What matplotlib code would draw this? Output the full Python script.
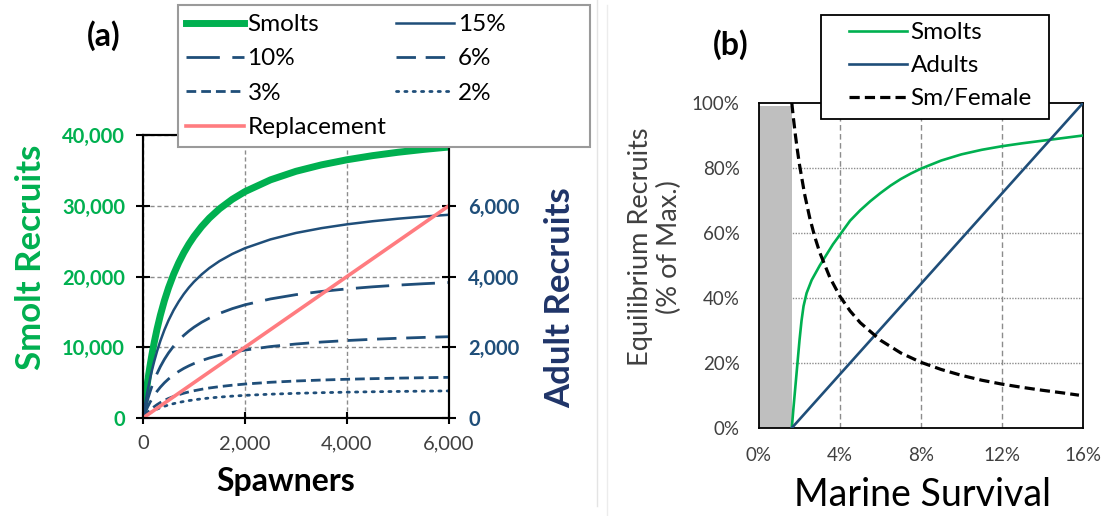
import matplotlib.pyplot as plt
from matplotlib.lines import Line2D
from matplotlib.patches import Rectangle

plt.rcParams['font.family'] = ['Lato', 'DejaVu Sans']

# Panel (a): stock-recruitment curves
spawners = [0, 15, 30, 50, 75, 100, 140, 175, 220, 275, 340, 420, 500, 600, 700,
            800, 900, 1000, 1150, 1300, 1500, 1750, 2000, 2500, 3000, 3500, 4000,
            4500, 5000, 5500, 6000]
smolts = [0, 950, 1860, 3010, 4370, 5630, 7480, 8960, 10680, 12560, 14520, 16600,
          18390, 20310, 21940, 23360, 24590, 25670, 27060, 28250, 29570, 30910,
          32000, 33660, 34870, 35780, 36500, 37080, 37560, 37960, 38300]
adults_15 = [0, 143, 279, 452, 656, 845, 1122, 1344, 1602, 1884, 2178, 2490, 2759,
             3047, 3291, 3504, 3689, 3851, 4059, 4238, 4436, 4637, 4800, 5049, 5231,
             5367, 5475, 5562, 5634, 5694, 5745]
adults_10 = [0, 95, 186, 301, 437, 563, 748, 896, 1068, 1256, 1452, 1660, 1839,
             2031, 2194, 2336, 2459, 2567, 2706, 2825, 2957, 3091, 3200, 3366, 3487,
             3578, 3650, 3708, 3756, 3796, 3830]
adults_6 = [0, 57, 112, 181, 262, 338, 449, 538, 641, 754, 871, 996, 1103, 1219,
            1316, 1402, 1475, 1540, 1624, 1695, 1774, 1855, 1920, 2020, 2092, 2147,
            2190, 2225, 2254, 2278, 2298]
adults_3 = [0, 29, 56, 90, 131, 169, 224, 269, 320, 377, 436, 498, 552, 609, 658,
            701, 738, 770, 812, 848, 887, 927, 960, 1010, 1046, 1073, 1095, 1112,
            1127, 1139, 1149]
adults_2 = [0, 19, 37, 60, 87, 113, 150, 179, 214, 251, 290, 332, 368, 406, 439,
            467, 492, 513, 541, 565, 591, 618, 640, 673, 697, 716, 730, 742, 751,
            759, 766]
replacement_x = [0, 6000]
replacement_y = [0, 6000]

# Panel (b): equilibrium recruits vs marine survival (%)
surv_smolts = [1.62, 1.7, 1.8, 1.9, 2.0, 2.1, 2.2, 2.35, 2.6, 3.0, 3.3, 3.65, 4.0,
               4.5, 5.0, 5.5, 6.0, 6.5, 7.0, 7.5, 8.0, 9.0, 10.0, 11.0, 12.0, 13.0,
               14.0, 15.0, 16.0]
eq_smolts = [0, 6, 13, 20, 27, 33, 37.5, 41.5, 45.5, 50, 53, 56.5, 59.5, 63.8, 67,
             69.8, 72.3, 74.6, 76.6, 78.3, 79.8, 82.3, 84.2, 85.6, 86.7, 87.6, 88.4,
             89.2, 90]
surv_adults = [1.62, 16.0]
eq_adults = [0, 100]
surv_ratio = [1.62, 1.7, 1.8, 1.9, 2.0, 2.25, 2.5, 2.75, 3.0, 3.5, 4.0, 4.5, 5.0,
              6.0, 7.0, 8.0, 9.0, 10.0, 11.0, 12.0, 13.0, 14.0, 15.0, 15.8]
sm_per_female = [100, 95.3, 90, 85.3, 81, 72, 64.8, 58.9, 54, 46.3, 40.5, 36, 32.4,
                 27, 23.1, 20.2, 18, 16.2, 14.7, 13.5, 12.5, 11.6, 10.8, 10.1]
extinct_width = 1.62
extinct_height = 99

GREEN = '#00B050'
NAVY = '#1F4E79'
PINK = '#FF7C80'
GRAY_TXT = '#404040'

W, H = 1109, 516
fig = plt.figure(figsize=(W / 100, H / 100), dpi=100)


def box(l, t, r, b):
    return [l / W, 1 - b / H, (r - l) / W, (b - t) / H]


def frame(l, t, r, b, color, lw):
    fig.add_artist(Rectangle((l / W, 1 - b / H), (r - l) / W, (b - t) / H,
                             transform=fig.transFigure, facecolor='white',
                             edgecolor=color, lw=lw, zorder=4))


# faint panel borders
fig.add_artist(Line2D([597 / W, 597 / W], [0.02, 1], color='#e4e4e4', lw=1))
fig.add_artist(Line2D([607 / W, 607 / W], [0.0, 0.99], color='#ececec', lw=1))

# ---------- panel (a) ----------
ax = fig.add_axes(box(143, 135, 449, 418))
ax2 = ax.twinx()

ax.set_xlim(0, 6000)
ax.set_ylim(0, 40000)
ax2.set_ylim(0, 8000)
ax.set_xticks([0, 2000, 4000, 6000])
ax.set_yticks([0, 10000, 20000, 30000, 40000])
ax2.set_yticks([0, 2000, 4000, 6000])
ax.xaxis.set_major_formatter(lambda v, p: f'{v:,.0f}')
ax.yaxis.set_major_formatter(lambda v, p: f'{v:,.0f}')
ax2.yaxis.set_major_formatter(lambda v, p: f'{v:,.0f}')

ax.grid(True, color='#8c8c8c', lw=1, linestyle=(0, (3, 2)))
ax.set_axisbelow(True)
for a in (ax, ax2):
    for s in a.spines.values():
        s.set_linewidth(1.5)
        s.set_color('black')

ax.tick_params(axis='y', direction='inout', length=10, width=1.5, pad=8,
               labelcolor=GREEN, labelsize=14.5)
ax.tick_params(axis='x', direction='inout', length=9, width=1.5, pad=8,
               labelcolor=GRAY_TXT, labelsize=14.5)
ax2.tick_params(axis='y', direction='inout', length=10, width=1.5, pad=9,
                labelcolor=NAVY, labelsize=14.5)
for lab in ax.get_yticklabels() + ax2.get_yticklabels():
    lab.set_fontweight('bold')

h_sm, = ax.plot(spawners, smolts, color=GREEN, lw=5, label='Smolts')
h15, = ax2.plot(spawners, adults_15, color=NAVY, lw=1.8, label='15%')
h10, = ax2.plot(spawners, adults_10, color=NAVY, lw=2, dashes=(12, 4.5), label='10%')
h6, = ax2.plot(spawners, adults_6, color=NAVY, lw=2, dashes=(7, 3.5), label='6%')
h3, = ax2.plot(spawners, adults_3, color=NAVY, lw=2, dashes=(3.5, 1.8), label='3%')
h2, = ax2.plot(spawners, adults_2, color=NAVY, lw=2, dashes=(0.8, 2.2),
               dash_capstyle='round', label='2%')
h_rep, = ax2.plot(replacement_x, replacement_y, color=PINK, lw=2.6, label='Replacement')

frame(178, 5, 590, 147, '#9a9a9a', 1.5)
leg = fig.legend([h_sm, h10, h3, h_rep, h15, h6, h2],
                 ['Smolts', '10%', '3%', 'Replacement', '15%', '6%', '2%'],
                 ncol=2, loc='upper left', bbox_to_anchor=(186 / W, 1 - 14 / H),
                 fontsize=17.5, handlelength=2.4, handletextpad=0.13,
                 labelspacing=0.55, borderpad=0, borderaxespad=0,
                 columnspacing=0.4, frameon=False)
leg.set_zorder(5)

fig.text(104 / W, 1 - 36 / H, '(a)', fontsize=23, fontweight='bold',
         ha='center', va='center')
fig.text(286 / W, 1 - 482 / H, 'Spawners', fontsize=23, fontweight='bold',
         ha='center', va='center')
fig.text(31 / W, 1 - 257 / H, 'Smolt Recruits', fontsize=25, fontweight='bold',
         color=GREEN, rotation=90, ha='center', va='center')
fig.text(560 / W, 1 - 298 / H, 'Adult Recruits', fontsize=25, fontweight='bold',
         color='#1F3468', rotation=90, ha='center', va='center')

# ---------- panel (b) ----------
bx = fig.add_axes(box(759, 103, 1083, 428))
bx.set_xlim(0, 16)
bx.set_ylim(0, 100)
bx.set_xticks([0, 4, 8, 12, 16])
bx.set_yticks([0, 20, 40, 60, 80, 100])
bx.xaxis.set_major_formatter(lambda v, p: f'{v:.0f}%')
bx.yaxis.set_major_formatter(lambda v, p: f'{v:.0f}%')
bx.tick_params(length=0, pad=14, labelsize=13.5, labelcolor=GRAY_TXT)
for s in bx.spines.values():
    s.set_linewidth(1.3)
    s.set_color('black')

for xv in [4, 8, 12]:
    bx.axvline(xv, color='#8c8c8c', lw=1, linestyle=(0, (4, 2.5)), zorder=0)
for yv in [20, 40, 60, 80]:
    bx.axhline(yv, color='#8c8c8c', lw=1, linestyle=(0, (1, 1)), zorder=0)

bx.bar([0], [extinct_height], width=extinct_width, align='edge',
       color='#BFBFBF', zorder=1)
hb1, = bx.plot(surv_smolts, eq_smolts, color=GREEN, lw=1.9, label='Smolts', zorder=3)
hb2, = bx.plot(surv_adults, eq_adults, color=NAVY, lw=1.9, label='Adults', zorder=3)
hb3, = bx.plot(surv_ratio, sm_per_female, color='black', lw=2.3, dashes=(3.2, 1.6),
               label='Sm/Female', zorder=3)

frame(821, 15, 1049, 119, 'black', 1.3)
legb = fig.legend([hb1, hb2, hb3], ['Smolts', 'Adults', 'Sm/Female'],
                  loc='upper left', bbox_to_anchor=(849 / W, 1 - 22 / H),
                  fontsize=17.5, handlelength=2.4, handletextpad=0.13,
                  labelspacing=0.5, borderpad=0, borderaxespad=0, frameon=False)
legb.set_zorder(5)

fig.text(731 / W, 1 - 45 / H, '(b)', fontsize=23, fontweight='bold',
         ha='center', va='center')
fig.text(922 / W, 1 - 495 / H, 'Marine Survival', fontsize=27,
         ha='center', va='center')
fig.text(655 / W, 1 - 247 / H, 'Equilibrium Recruits\n(% of Max.)', fontsize=19.5,
         color=GRAY_TXT, rotation=90, ha='center', va='center',
         multialignment='center', linespacing=1.2)

fig.savefig('out.png', dpi=100)
